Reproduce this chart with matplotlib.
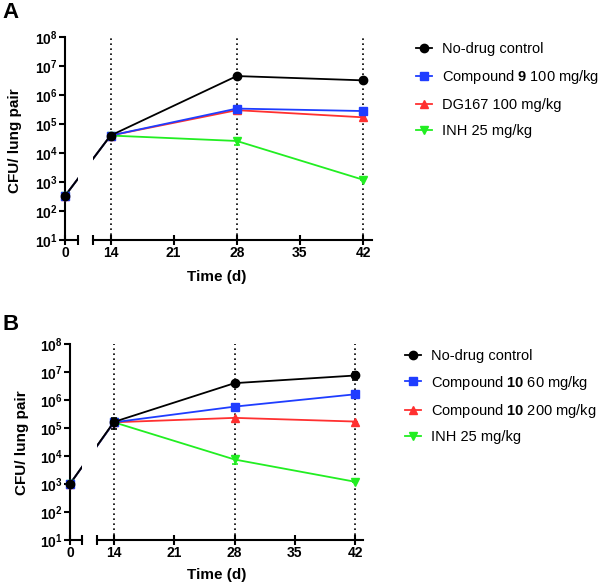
import matplotlib
matplotlib.use("Agg")
import matplotlib.pyplot as plt
import numpy as np
from matplotlib.ticker import FixedLocator, LogLocator, NullFormatter, FuncFormatter, NullLocator
from matplotlib.lines import Line2D

plt.rcParams['font.family'] = ['Liberation Sans', 'DejaVu Sans']
plt.rcParams['mathtext.fontset'] = 'custom'
plt.rcParams['mathtext.rm'] = 'Liberation Sans:bold'
plt.rcParams['mathtext.bf'] = 'Liberation Sans:bold'
plt.rcParams['mathtext.it'] = 'Liberation Sans:bold'

days = [0, 14, 28, 42]

# Panel A
a_labels = ["No-drug control", r"Compound $\mathbf{9}$ 100 mg/kg", "DG167 100 mg/kg", "INH 25 mg/kg"]
a_control = [330, 4.0e4, 4.5e6, 3.2e6]
a_cpd9 = [330, 4.0e4, 3.4e5, 2.8e5]
a_dg167 = [330, 4.0e4, 3.0e5, 1.7e5]
a_inh = [330, 4.0e4, 2.6e4, 1.2e3]
a_err_control = [0, 0, 0, 0]
a_err_cpd9 = [0, 0, 0, 0]
a_err_dg167 = [0, 0, 0, 0]
a_err_inh = [0, 0, 7e3, 0]

# Panel B
b_labels = ["No-drug control", r"Compound $\mathbf{10}$ 60 mg/kg", r"Compound $\mathbf{10}$ 200 mg/kg", "INH 25 mg/kg"]
b_control = [1.0e3, 1.65e5, 4.0e6, 7.5e6]
b_cpd10_60 = [1.0e3, 1.6e5, 5.8e5, 1.6e6]
b_cpd10_200 = [1.0e3, 1.6e5, 2.3e5, 1.7e5]
b_inh = [1.0e3, 1.6e5, 7.5e3, 1.2e3]
b_err_control = [0, 7e4, 0, 2.5e6]
b_err_cpd10_60 = [0, 0, 0, 0]
b_err_cpd10_200 = [0, 0, 0, 0]
b_err_inh = [0, 0, 2.5e3, 0]

colors = ['black', '#1f3dff', '#ff3030', '#22ee22']
markers = ['o', 's', '^', 'v']
msizes = [6, 6, 6, 6]

fig = plt.figure(figsize=(6.0, 5.84), dpi=100)

def px(x0, y_top, x1, y_bot):
    W, H = 600, 584
    return [x0 / W, 1 - y_bot / H, (x1 - x0) / W, (y_bot - y_top) / H]

def decade_fmt(v, pos):
    e = int(round(np.log10(v)))
    return r'$\mathbf{10^{%d}}$' % e

def panel(left_rect, main_rect, series, errs, labels, left_xlim, main_xlim, leg_anchor, leg_spacing,
          letter, letter_pos, ylab_pos, xlab_pos):
    axl = fig.add_axes(px(*left_rect))
    axm = fig.add_axes(px(*main_rect))
    for ax in (axl, axm):
        ax.set_yscale('log')
        ax.set_ylim(10, 1e8)
        ax.set_facecolor('none')
        ax.spines['top'].set_visible(False)
        ax.spines['right'].set_visible(False)
        for s in ax.spines.values():
            s.set_linewidth(1.5)
        ax.tick_params(axis='y', which='major', length=4, width=1.5, labelsize=10)
        ax.tick_params(axis='x', which='major', direction='inout', length=7, width=1.5, labelsize=10, pad=1)
    axm.spines['left'].set_visible(False)
    axm.yaxis.set_major_locator(NullLocator())
    axm.yaxis.set_minor_locator(NullLocator())
    axl.yaxis.set_major_locator(FixedLocator([10.0 ** k for k in range(1, 9)]))
    axl.yaxis.set_major_formatter(FuncFormatter(decade_fmt))
    axl.yaxis.set_minor_locator(LogLocator(base=10, subs=np.arange(2, 10)))
    axl.yaxis.set_minor_formatter(NullFormatter())
    axl.tick_params(axis='y', which='minor', length=2.5, width=1.0)
    axl.tick_params(axis='y', which='major', pad=1)
    axl.set_xlim(*left_xlim)
    axm.set_xlim(*main_xlim)
    axl.set_xticks([0, left_xlim[1]])
    axl.set_xticklabels(['0', ''])
    axm.set_xticks([main_xlim[0], 14, 21, 28, 35, 42])
    axm.set_xticklabels(['', '14', '21', '28', '35', '42'])
    for ax in (axl, axm):
        for lab in ax.get_xticklabels() + ax.get_yticklabels():
            lab.set_fontweight('bold')
    for xv in [14, 28, 42]:
        axm.axvline(xv, color='black', linestyle=(0, (1, 2)), linewidth=1.2, zorder=1)
    order = [3, 2, 1, 0]
    handles = [None] * 4
    for i in order:
        y = series[i]
        e = errs[i]
        z = 3 + (3 - i)
        # screen-space connection between day 0 (left axis) and day 14 (main axis)
        p0 = axl.transData.transform((days[0], y[0]))
        p1 = axm.transData.transform((days[1], y[1]))
        pts = np.array([p0, p1])
        for ax in (axl, axm):
            d = ax.transData.inverted().transform(pts)
            ax.plot(d[:, 0], d[:, 1], color=colors[i], linewidth=1.3, zorder=z, clip_on=True)
        axl.plot(days[:1], y[:1], color=colors[i], marker=markers[i], markersize=msizes[i],
                 linestyle='none', clip_on=False, zorder=z + 4)
        axm.errorbar(days[1:], y[1:], yerr=e[1:], color=colors[i], linewidth=1.3, marker=markers[i],
                     markersize=msizes[i], capsize=2.5, elinewidth=1.2, capthick=1.2,
                     zorder=z, clip_on=False)
        handles[i] = Line2D([], [], color=colors[i], marker=markers[i], markersize=msizes[i], linewidth=1.3)
    fig.legend(handles, labels, loc='upper left', bbox_to_anchor=leg_anchor, frameon=False,
               fontsize=10.5, handlelength=1.1, handletextpad=0.7, labelspacing=leg_spacing,
               borderaxespad=0, borderpad=0)
    fig.text(letter_pos[0] / 600, 1 - letter_pos[1] / 584, letter, fontsize=16, fontweight='bold',
             ha='left', va='center')
    fig.text(ylab_pos[0] / 600, 1 - ylab_pos[1] / 584, 'CFU/ lung pair', rotation=90, fontsize=11,
             fontweight='bold', ha='center', va='center')
    fig.text(xlab_pos[0] / 600, 1 - xlab_pos[1] / 584, 'Time (d)', fontsize=11,
             fontweight='bold', ha='center', va='center')

panel((64.5, 37, 78, 240), (92.5, 37, 372, 240),
      [a_control, a_cpd9, a_dg167, a_inh], [a_err_control, a_err_cpd9, a_err_dg167, a_err_inh],
      a_labels, (-0.05, 1.4), (12, 43), (416 / 600, 1 - 42 / 584), 0.82,
      'A', (2, 13), (15, 141), (217, 277))

panel((69.5, 344, 81.7, 540), (96.7, 344, 363, 540),
      [b_control, b_cpd10_60, b_cpd10_200, b_inh], [b_err_control, b_err_cpd10_60, b_err_cpd10_200, b_err_inh],
      b_labels, (-0.05, 1.4), (12, 42.9), (405 / 600, 1 - 349 / 584), 0.72,
      'B', (2, 325), (22, 443), (217, 575))

fig.savefig('out.png', dpi=100)
